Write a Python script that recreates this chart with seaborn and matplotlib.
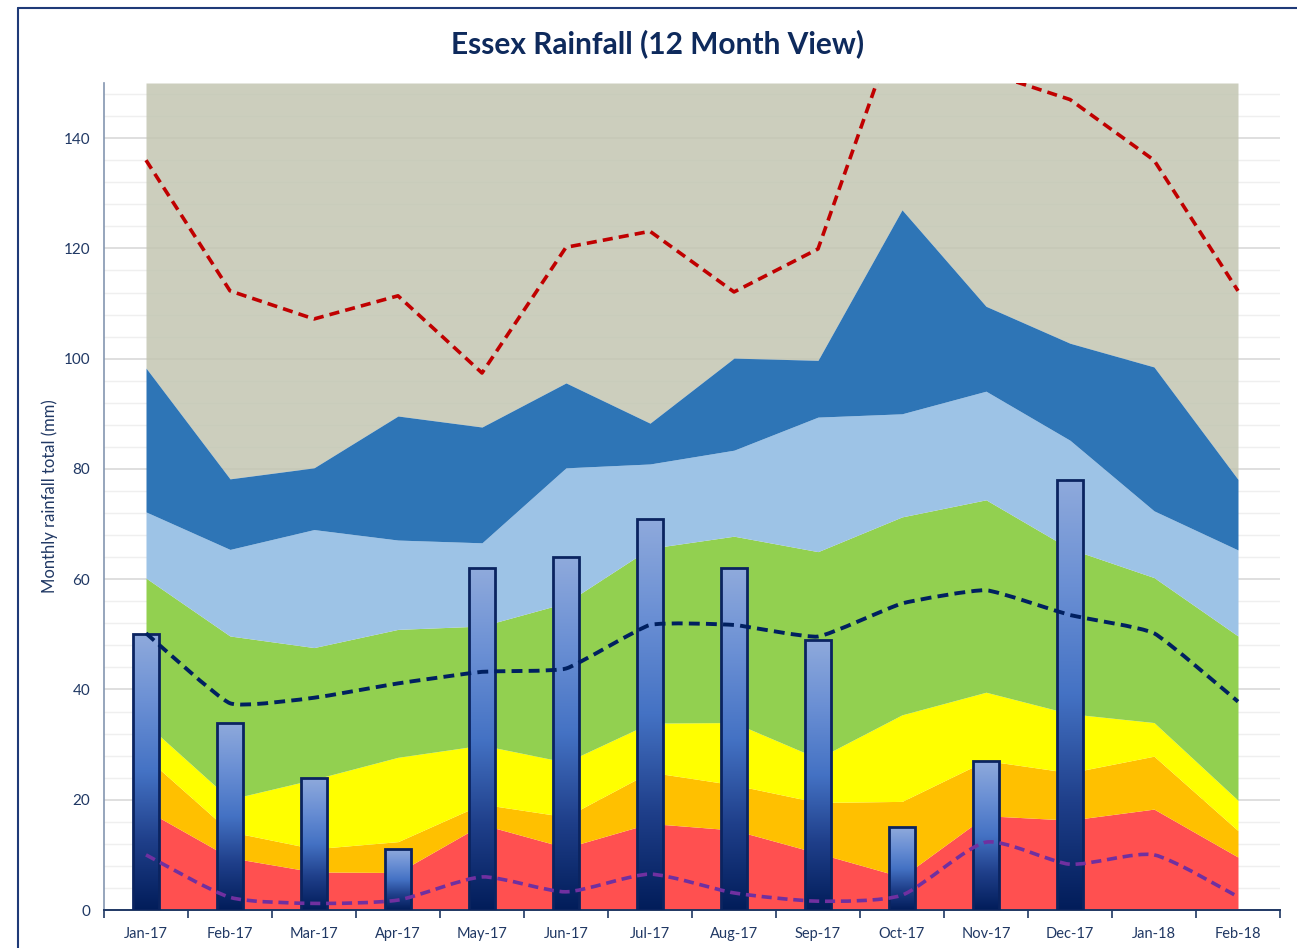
import numpy as np
import matplotlib
matplotlib.use("Agg")
import matplotlib.pyplot as plt
from matplotlib.path import Path
from matplotlib.patches import PathPatch
from matplotlib.lines import Line2D
from matplotlib.colors import LinearSegmentedColormap
import pandas as pd
import seaborn as sns

# ---------------------------------------------------------------- data
months = ["Jan-17", "Feb-17", "Mar-17", "Apr-17", "May-17", "Jun-17", "Jul-17",
          "Aug-17", "Sep-17", "Oct-17", "Nov-17", "Dec-17", "Jan-18", "Feb-18"]

# observed monthly totals (mm), Jan-17 .. Dec-17
rainfall = [50, 34, 24, 11, 62, 64, 71, 62, 49, 15, 27, 78]

# long-term statistics per calendar month (mm)
max_rain = [136.0, 112.3, 107.2, 111.4, 97.4, 120.2, 123.1, 112.1, 119.9,
            163.0, 152.0, 147.0, 136.0, 112.3]
mean_rain = [50.2, 37.5, 38.5, 41.1, 43.2, 43.8, 51.7, 51.7, 49.6, 55.6,
             58.0, 53.5, 50.2, 37.8]
min_rain = [10.0, 2.3, 1.2, 1.8, 6.0, 3.3, 6.5, 3.1, 1.6, 2.7, 12.3, 8.3,
            10.0, 2.4]

# upper edges of the percentile bands (mm)
band_red = [18.1, 9.5, 6.9, 6.8, 15.5, 11.3, 15.7, 14.5, 10.3, 6.0, 17.1,
            16.3, 18.3, 9.6]
band_orange = [27.7, 14.2, 11.1, 12.4, 19.2, 16.9, 25.0, 22.7, 19.5, 19.7,
               27.1, 24.9, 27.9, 14.4]
band_yellow = [33.8, 20.1, 23.7, 27.7, 29.9, 26.8, 33.9, 34.0, 27.5, 35.4,
               39.5, 35.6, 34.0, 19.9]
band_green = [60.2, 49.7, 47.6, 50.9, 51.5, 55.7, 65.6, 67.8, 65.0, 71.3,
              74.4, 65.5, 60.3, 49.7]
band_lightblue = [72.2, 65.4, 69.0, 67.1, 66.6, 80.2, 80.9, 83.4, 89.4, 90.0,
                  94.1, 85.2, 72.4, 65.3]
band_darkblue = [98.3, 78.2, 80.2, 89.6, 87.6, 95.6, 88.3, 100.1, 99.7, 127.0,
                 109.5, 102.8, 98.5, 78.1]

Y_MAX = 150

# ---------------------------------------------------------------- style
NAVY = "#1F3864"
TEXT = "#203864"
sns.set_theme(style="white")
plt.rcParams["font.family"] = ["Lato", "DejaVu Sans"]

fig = plt.figure(figsize=(12.97, 9.48), dpi=100)
ax = fig.add_axes([104 / 1297, 1 - 910 / 948, (1280 - 104) / 1297, (910 - 83) / 948])

x = np.arange(len(months))

# gridlines
for v in np.arange(0, Y_MAX + 0.1, 4):
    major = (v % 20 == 0)
    ax.axhline(v, color="#D9D9D9" if major else "#EFEFEF",
               lw=1.2 if major else 1.0, zorder=0.5)

# percentile bands
ax.fill_between(x, band_darkblue, Y_MAX, color="#C3C6B2", alpha=0.85,
                lw=0, zorder=1)
layers = [
    (np.zeros(len(x)), band_red, "#FF5050"),
    (band_red, band_orange, "#FFC000"),
    (band_orange, band_yellow, "#FFFF00"),
    (band_yellow, band_green, "#92D050"),
    (band_green, band_lightblue, "#9DC3E6"),
    (band_lightblue, band_darkblue, "#2E75B6"),
]
for lo, hi, col in layers:
    ax.fill_between(x, lo, hi, color=col, lw=0, zorder=1.2)

# monthly totals as bars
df = pd.DataFrame({"month": months[:len(rainfall)], "rain": rainfall})
sns.barplot(data=df, x="month", y="rain", order=months, width=0.3,
            facecolor="none", edgecolor="#0B2460", linewidth=2.0,
            ax=ax, zorder=4)

grad = LinearSegmentedColormap.from_list(
    "bar", ["#021D5A", "#1F3F8A", "#4472C4", "#6A8FD4", "#8FAADC"])
g = np.linspace(0, 1, 256).reshape(-1, 1)
for p in list(ax.patches):
    bx, by = p.get_x(), p.get_y()
    bw, bh = p.get_width(), p.get_height()
    if not np.isfinite(bh) or bh <= 0:
        continue
    im = ax.imshow(g, cmap=grad, origin="lower", aspect="auto",
                   extent=[bx, bx + bw, by, by + bh], zorder=3.9)
    im.set_clip_path(p)


# smoothed dashed lines (bezier through each point)
def smooth_path(xs, ys, k=0.125):
    pts = np.column_stack([xs, ys]).astype(float)
    verts = [pts[0]]
    codes = [Path.MOVETO]
    n = len(pts)
    for i in range(n - 1):
        p0 = pts[i - 1] if i > 0 else pts[i]
        p1, p2 = pts[i], pts[i + 1]
        p3 = pts[i + 2] if i + 2 < n else pts[i + 1]
        c1 = p1 + (p2 - p0) * k
        c2 = p2 - (p3 - p1) * k
        verts += [c1, c2, p2]
        codes += [Path.CURVE4] * 3
    return Path(verts, codes)


dash = (0, (2.8, 1.6))
sns.lineplot(x=x, y=max_rain, ax=ax, color="#C00000", lw=2.6,
             linestyle=(0, (2.8, 1.7)), zorder=5)
ax.add_patch(PathPatch(smooth_path(x, mean_rain, k=0.07), fill=False,
                       edgecolor="#002060", lw=2.8, linestyle=dash, zorder=5))
ax.add_patch(PathPatch(smooth_path(x, min_rain, k=0.11), fill=False,
                       edgecolor="#7030A0", lw=2.6, linestyle=dash, zorder=5))

# axes
ax.set_xlim(-0.5, len(months) - 0.5)
ax.set_ylim(0, Y_MAX)
ax.set_xticks(x)
ax.set_xticklabels(months)
ax.set_xticks(np.arange(-0.5, len(months)), minor=True)
ax.tick_params(axis="x", which="major", length=0, pad=12, labelsize=10.5,
               labelcolor=TEXT)
ax.tick_params(axis="x", which="minor", length=6, width=1.2, color=NAVY,
               direction="out", bottom=True)
ax.set_yticks(np.arange(0, 141, 20))
ax.tick_params(axis="y", length=0, pad=10, labelsize=11, labelcolor=TEXT)
ax.set_xlabel("")
ax.set_ylabel("Monthly rainfall total (mm)", fontsize=12, color=TEXT)
ax.yaxis.set_label_coords(-46 / 1176, 0.5)
for s in ("top", "right"):
    ax.spines[s].set_visible(False)
ax.spines["left"].set_color("#8496B0")
ax.spines["left"].set_linewidth(1.2)
ax.spines["bottom"].set_color(NAVY)
ax.spines["bottom"].set_linewidth(1.4)
ax.grid(False)

fig.text(658 / 1297, 1 - 44 / 948, "Essex Rainfall (12 Month View)",
         ha="center", va="center", fontsize=21.5, fontweight="bold",
         color="#0E2A5C")

# chart frame
fig.add_artist(Line2D([18 / 1297, 1], [1 - 8 / 948, 1 - 8 / 948],
                      transform=fig.transFigure, color="#1F3A78", lw=1.5))
fig.add_artist(Line2D([18 / 1297, 18 / 1297], [0, 1 - 8 / 948],
                      transform=fig.transFigure, color="#1F3A78", lw=1.5))

fig.savefig("out.png", dpi=100)
